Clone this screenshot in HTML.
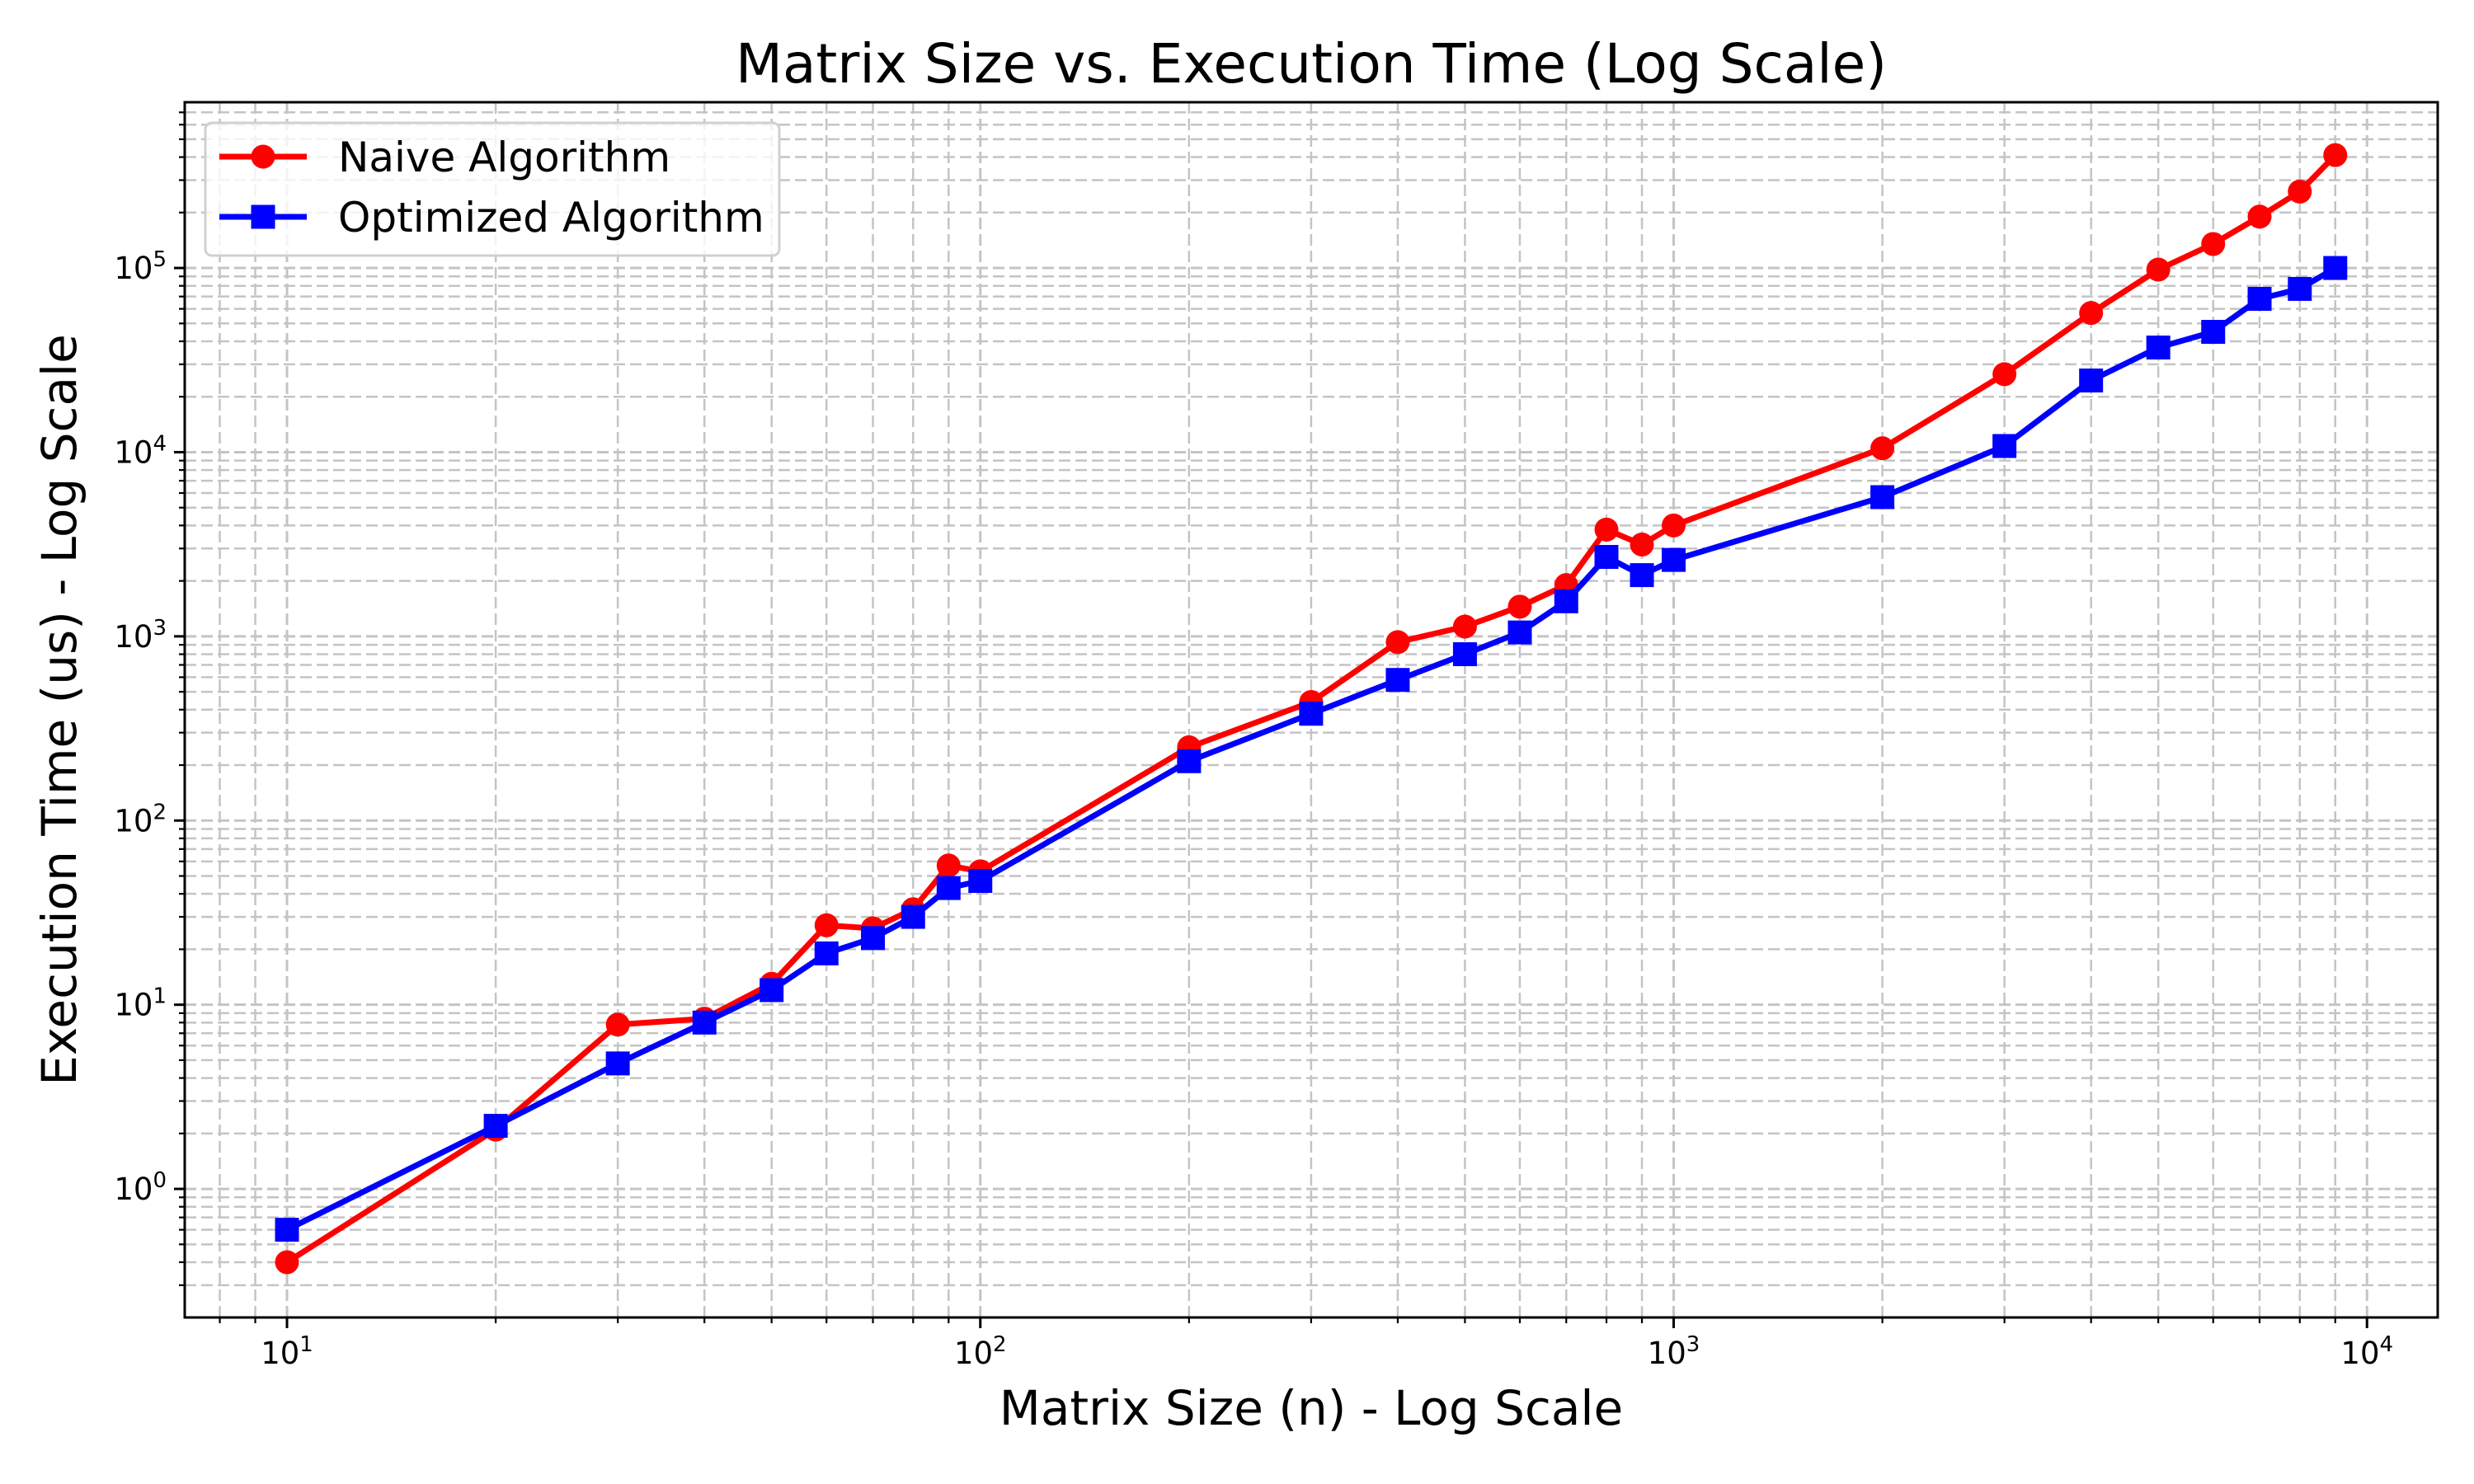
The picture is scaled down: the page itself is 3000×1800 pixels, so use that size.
<!DOCTYPE html>
<html><head><meta charset="utf-8"><style>
html,body{margin:0;padding:0;background:#fff}
svg{display:block;font-family:"DejaVu Sans","Liberation Sans",sans-serif}
</style></head><body>
<svg id="chart" width="3000" height="1800" viewBox="0 0 3000 1800" xmlns="http://www.w3.org/2000/svg">
<rect x="0" y="0" width="3000" height="1800" fill="#fff"/>
<g id="grid"></g>
<g id="series"></g>
<rect x="224" y="124" width="2732" height="1474" fill="none" stroke="#000" stroke-width="3"/>
<g id="ticks"></g>
<text x="1590" y="100" font-size="66" text-anchor="middle">Matrix Size vs. Execution Time (Log Scale)</text>
<text x="1590" y="1728" font-size="58" text-anchor="middle">Matrix Size (n) - Log Scale</text>
<text x="0" y="0" font-size="58" text-anchor="middle" transform="translate(92,861) rotate(-90)">Execution Time (us) - Log Scale</text>
<g>
<rect x="249" y="149" width="696" height="161" rx="8" fill="#fff" fill-opacity="0.8" stroke="#d0d0d0" stroke-width="3"/>
<g>
<line x1="266" y1="190" x2="372" y2="190" stroke="#ff0000" stroke-width="7"/>
<circle cx="319" cy="190" r="14.5" fill="#ff0000"/>
<text x="410" y="208" font-size="50">Naive Algorithm</text>
</g>
<g>
<line x1="266" y1="263" x2="372" y2="263" stroke="#0000ff" stroke-width="7"/>
<rect x="304.5" y="248.5" width="29" height="29" fill="#0000ff"/>
<text x="410" y="281" font-size="50">Optimized Algorithm</text>
</g>
</g>
</svg>
<script>
const sizes = [10,20,30,40,50,60,70,80,90,100,200,300,400,500,600,700,800,900,1000,2000,3000,4000,5000,6000,7000,8000,9000];
const naiveTimes = [0.4,2.1,7.8,8.4,13,27,26,33,57,53,250,440,930,1130,1450,1900,3800,3150,4000,10500,26500,57000,98000,135000,190000,260000,410000];
const optimizedTimes = [0.6,2.2,4.8,8,12,19,23,30,43,47,210,380,580,800,1050,1550,2700,2150,2600,5700,10800,24500,37000,45000,68000,77000,100000];
const xTickExps = [1,2,3,4];
const yTickExps = [0,1,2,3,4,5];

const L=224,R=2956,T=124,B=1598;
const XMIN=0.8525,XMAX=4.102,YMIN=-0.698,YMAX=5.900;
const NS="http://www.w3.org/2000/svg";
function sx(v){return L+(Math.log10(v)-XMIN)/(XMAX-XMIN)*(R-L);}
function sy(v){return B-(Math.log10(v)-YMIN)/(YMAX-YMIN)*(B-T);}
function mk(tag,attrs,parent){const e=document.createElementNS(NS,tag);for(const k in attrs)e.setAttribute(k,attrs[k]);parent.appendChild(e);return e;}

const grid=document.getElementById('grid'), ticks=document.getElementById('ticks'), series=document.getElementById('series');
for(let e=0;e<=4;e++){for(let m=1;m<=9;m++){const v=m*Math.pow(10,e);const lv=Math.log10(v);if(lv<XMIN||lv>XMAX)continue;const x=sx(v);
 const g=mk('line',{x1:x,y1:T,x2:x,y2:B,stroke:'#c4c4c4','stroke-width':m==1?3:2.5,'stroke-dasharray':'14 6'},grid);
 
 
 const t=mk('line',{x1:x,y1:B,x2:x,y2:B+(m==1?13:7),stroke:'#000','stroke-width':m==1?3:2.2},ticks);
 
 
}}
for(let e=-1;e<=5;e++){for(let m=1;m<=9;m++){const v=m*Math.pow(10,e);const lv=Math.log10(v);if(lv<YMIN||lv>YMAX)continue;const y=sy(v);
 const g=mk('line',{x1:L,y1:y,x2:R,y2:y,stroke:'#c4c4c4','stroke-width':m==1?3:2.5,'stroke-dasharray':'14 6'},grid);
 
 
 const t=mk('line',{x1:L,y1:y,x2:L-(m==1?13:7),y2:y,stroke:'#000','stroke-width':m==1?3:2.2},ticks);
 
 
}}
xTickExps.forEach(e=>{const x=sx(Math.pow(10,e));
 const t=mk('text',{x:x,y:B+56,'font-size':37,'text-anchor':'middle'},ticks);
 
 
 t.innerHTML='10<tspan font-size="26" dy="-15">'+e+'</tspan>';
});
yTickExps.forEach(e=>{const y=sy(Math.pow(10,e));
 const t=mk('text',{x:L-22,y:y+13,'font-size':37,'text-anchor':'end'},ticks);
 
 
 t.innerHTML='10<tspan font-size="26" dy="-15">'+e+'</tspan>';
});
function drawSeries(vals,color,shape,name){
 const pts=sizes.map((s,i)=>sx(s).toFixed(1)+','+sy(vals[i]).toFixed(1)).join(' ');
 const pl=mk('polyline',{points:pts,fill:'none',stroke:color,'stroke-width':7,'stroke-linejoin':'round'},series);
 
 
 sizes.forEach((s,i)=>{const x=sx(s),y=sy(vals[i]);let m;
  if(shape==='circle')m=mk('circle',{cx:x,cy:y,r:14.5,fill:color},series);
  else m=mk('rect',{x:x-14.5,y:y-14.5,width:29,height:29,fill:color},series);
  
  
 });
}
drawSeries(naiveTimes,'#ff0000','circle','naive');
drawSeries(optimizedTimes,'#0000ff','square','optimized');
</script>
</body></html>
